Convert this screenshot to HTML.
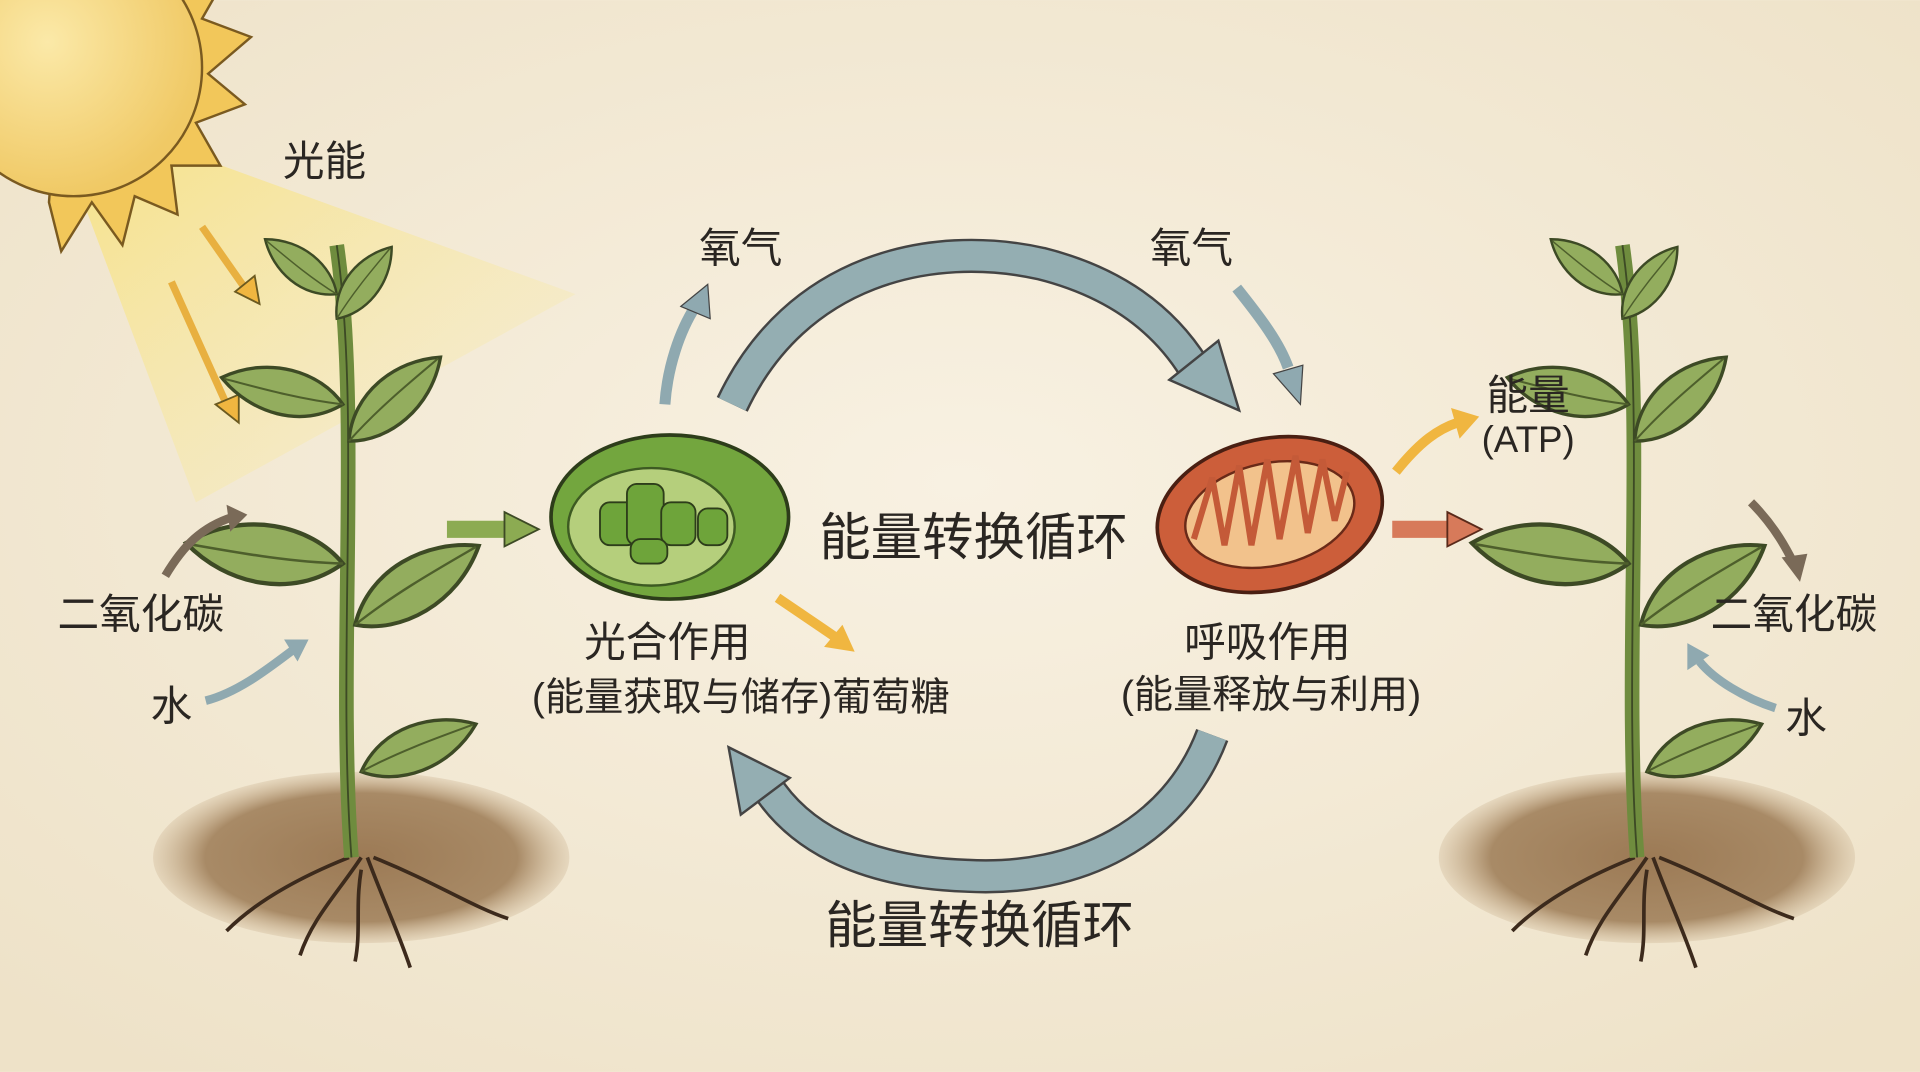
<!DOCTYPE html>
<html><head><meta charset="utf-8"><style>
html,body{margin:0;padding:0;background:#f3ead7;}
svg{display:block}
text{font-family:"Liberation Sans","Noto Sans CJK SC",sans-serif;fill:#2a2622;}
</style></head><body>
<svg width="1920" height="1072" viewBox="0 0 1568 875" xmlns="http://www.w3.org/2000/svg">
<defs>
<radialGradient id="bg" cx="0.5" cy="0.45" r="0.7"><stop offset="0" stop-color="#f8f1e2"/><stop offset="1" stop-color="#eee2c8"/></radialGradient>
<radialGradient id="sun" cx="0.4" cy="0.4" r="0.6"><stop offset="0" stop-color="#fbe9a8"/><stop offset="1" stop-color="#f0c965"/></radialGradient>
<radialGradient id="soil" cx="0.5" cy="0.5" r="0.5"><stop offset="0" stop-color="#9c7a55"/><stop offset="0.75" stop-color="#a88a66"/><stop offset="1" stop-color="#c9b08e" stop-opacity="0.3"/></radialGradient>
<linearGradient id="beam" x1="0" y1="0" x2="1" y2="1"><stop offset="0" stop-color="#f8e27a" stop-opacity="0.8"/><stop offset="1" stop-color="#f8ecb0" stop-opacity="0.1"/></linearGradient>
<g id="leaf"><path d="M0,0 C20,-30 60,-35 90,-20 C65,10 25,15 0,0Z" fill="#93ad5e" stroke="#3d4a25" stroke-width="2.5"/><path d="M0,0 C30,-10 60,-15 88,-20" stroke="#4e5f2c" stroke-width="1.5" fill="none"/></g>
<g id="plant">
<ellipse cx="0" cy="60" rx="170" ry="70" fill="url(#soil)"/>
<path d="M-10,60 C-60,80 -90,100 -110,120 M0,60 C-20,90 -40,110 -50,140 M5,60 C20,100 30,120 40,150 M10,60 C60,80 90,100 120,110 M0,70 C-5,100 0,120 -5,145" stroke="#3c2a1c" stroke-width="3" fill="none"/>
<path d="M-8,60 C-20,-100 0,-300 -20,-440" stroke="#6f8c3e" stroke-width="12" fill="none"/>
<path d="M-8,60 C-20,-100 0,-300 -20,-440" stroke="#3d4a25" stroke-width="1.5" fill="none"/>
<use href="#leaf" transform="translate(-15,-180) scale(1.4) rotate(200)"/>
<use href="#leaf" transform="translate(-5,-130) scale(1.3) rotate(-20)"/>
<use href="#leaf" transform="translate(-10,-280) scale(1.1) rotate(-30)"/>
<use href="#leaf" transform="translate(-15,-310) scale(1.1) rotate(205)"/>
<use href="#leaf" transform="translate(-20,-380) scale(0.8) rotate(-40)"/>
<use href="#leaf" transform="translate(-20,-400) scale(0.8) rotate(230)"/>
<use href="#leaf" transform="translate(0,-10) scale(1.1) rotate(-10)"/>
</g>
</defs>
<rect width="1568" height="875" fill="url(#bg)"/>
<polygon points="140,120 470,240 160,410 70,170" fill="url(#beam)"/>
<g transform="translate(60,55)">
<polygon points="0,-150 20,-110 50,-140 55,-100 95,-115 85,-75 125,-75 105,-40 145,-25 110,5 140,30 100,45 120,80 80,80 85,120 50,105 40,145 15,110 -10,150 -20,110" fill="#f2c75a" stroke="#7a5a20" stroke-width="2"/>
<circle r="105" fill="url(#sun)" stroke="#7a5a20" stroke-width="2"/>
</g>
<g stroke="#6b5a20" stroke-width="1.5" fill="#f0b640">
<path d="M165,185 L200,235" stroke="#e8b040" stroke-width="6"/><path d="M192,238 L212,248 L208,225Z"/>
<path d="M140,230 L185,330" stroke="#e8b040" stroke-width="6"/><path d="M176,330 L195,345 L195,322Z"/>
</g>
<use href="#plant" transform="translate(295,640)"/>
<use href="#plant" transform="translate(1345,640)"/>
<path d="M135,470 C150,445 165,430 190,422" stroke="#7a6a58" stroke-width="7" fill="none"/><path d="M185,412 L202,420 L188,434Z" fill="#7a6a58"/>
<path d="M168,572 C195,565 220,545 240,530" stroke="#8fa9b0" stroke-width="7" fill="none"/><path d="M232,522 L252,522 L243,540Z" fill="#8fa9b0"/>
<path d="M1430,410 C1450,430 1460,450 1465,460" stroke="#7a6a58" stroke-width="7" fill="none"/><path d="M1455,455 L1470,475 L1476,452Z" fill="#7a6a58"/>
<path d="M1450,578 C1425,570 1400,555 1388,540" stroke="#8fa9b0" stroke-width="7" fill="none"/><path d="M1378,547 L1378,525 L1396,535Z" fill="#8fa9b0"/>
<path d="M365,432 L415,432" stroke="#8cab52" stroke-width="14"/><path d="M412,418 L440,432 L412,446Z" fill="#8cab52" stroke="#3d4a25" stroke-width="1.5"/>
<path d="M1137,432 L1185,432" stroke="#d77a5a" stroke-width="14"/><path d="M1182,418 L1210,432 L1182,446Z" fill="#d77a5a" stroke="#5a2a1a" stroke-width="1.5"/>
<path d="M1140,385 C1160,360 1175,350 1190,345" stroke="#f0b640" stroke-width="8" fill="none"/><path d="M1185,333 L1208,340 L1192,358Z" fill="#f0b640"/>
<path d="M635,488 C660,505 675,515 682,520" stroke="#f0b640" stroke-width="8" fill="none"/><path d="M673,528 L698,532 L688,510Z" fill="#f0b640"/>
<path d="M543,330 C545,300 555,270 568,250" stroke="#8fa9b0" stroke-width="9" fill="none"/><path d="M556,250 L578,232 L580,260Z" fill="#8fa9b0" stroke="#444" stroke-width="1"/>
<path d="M1010,235 C1030,260 1045,280 1052,300" stroke="#8fa9b0" stroke-width="9" fill="none"/><path d="M1040,305 L1062,330 L1064,298Z" fill="#8fa9b0" stroke="#444" stroke-width="1"/>
<path d="M598,330 C650,220 760,195 850,215 C910,230 950,260 975,300" stroke="#444" stroke-width="28" fill="none"/>
<path d="M598,330 C650,220 760,195 850,215 C910,230 950,260 975,300" stroke="#94aeb2" stroke-width="24" fill="none"/>
<path d="M955,310 L1012,335 L995,278Z" fill="#94aeb2" stroke="#444" stroke-width="2"/>
<path d="M990,600 C960,680 880,720 790,715 C700,712 650,680 625,640" stroke="#444" stroke-width="28" fill="none"/>
<path d="M990,600 C960,680 880,720 790,715 C700,712 650,680 625,640" stroke="#94aeb2" stroke-width="24" fill="none"/>
<path d="M645,635 L595,610 L605,665Z" fill="#94aeb2" stroke="#444" stroke-width="2"/>
<ellipse cx="547" cy="422" rx="97" ry="67" fill="#73a63e" stroke="#2d3d1a" stroke-width="3"/>
<ellipse cx="532" cy="430" rx="68" ry="48" fill="#b5cf7c" stroke="#3d5a22" stroke-width="2"/>
<g fill="#6ea43a" stroke="#2d3d1a" stroke-width="1.5">
<rect x="490" y="410" width="30" height="35" rx="8"/><rect x="512" y="395" width="30" height="50" rx="8"/><rect x="540" y="410" width="28" height="35" rx="8"/><rect x="570" y="415" width="24" height="30" rx="8"/><rect x="515" y="440" width="30" height="20" rx="8"/>
</g>
<ellipse cx="1037" cy="420" rx="93" ry="62" fill="#cc5e3a" stroke="#4a1f12" stroke-width="3" transform="rotate(-12 1037 420)"/>
<ellipse cx="1037" cy="420" rx="70" ry="42" fill="#f2c28c" stroke="#6a2a18" stroke-width="2" transform="rotate(-12 1037 420)"/>
<path d="M975,440 L990,390 L1000,445 L1012,380 L1022,445 L1035,375 L1045,440 L1058,372 L1068,435 L1080,375 L1090,425 L1100,385" stroke="#c45a38" stroke-width="5" fill="none"/>
<g font-size="34">
<text x="265" y="143" text-anchor="middle">光能</text>
<text x="605" y="214" text-anchor="middle">氧气</text>
<text x="973" y="214" text-anchor="middle">氧气</text>
<text x="115" y="513" text-anchor="middle">二氧化碳</text>
<text x="140" y="588" text-anchor="middle">水</text>
<text x="1465" y="513" text-anchor="middle">二氧化碳</text>
<text x="1475" y="598" text-anchor="middle">水</text>
<text x="1248" y="334" text-anchor="middle">能量</text>
<text x="1248" y="369" text-anchor="middle" font-size="30">(ATP)</text>
<text x="545" y="536" text-anchor="middle">光合作用</text>
<text x="605" y="580" text-anchor="middle" font-size="32">(能量获取与储存)葡萄糖</text>
<text x="1035" y="536" text-anchor="middle">呼吸作用</text>
<text x="1038" y="578" text-anchor="middle" font-size="32">(能量释放与利用)</text>
</g>
<text x="795" y="453" text-anchor="middle" font-size="42">能量转换循环</text>
<text x="800" y="770" text-anchor="middle" font-size="42">能量转换循环</text>
</svg>
</body></html>
